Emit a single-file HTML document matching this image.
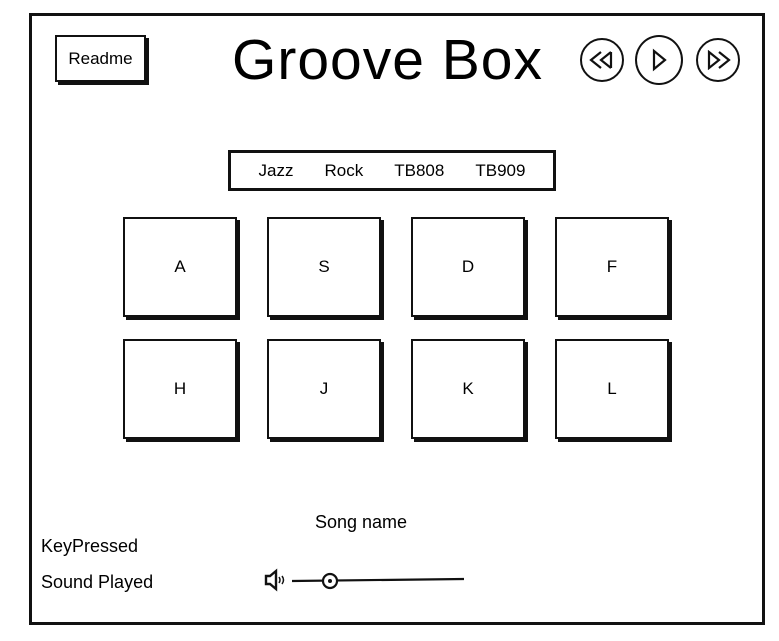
<!DOCTYPE html>
<html><head><meta charset="utf-8"><style>
body{margin:0;width:779px;height:641px;background:#fff;position:relative;overflow:hidden;font-family:"Liberation Sans",sans-serif;color:#000}
.abs{position:absolute}
.frame{left:29px;top:13px;width:730px;height:606px;border:3px solid #111}
.btn{border:2px solid #111;box-shadow:3px 3px 0 #111;background:#fff;display:flex;align-items:center;justify-content:center;box-sizing:border-box}
.pad{width:114px;height:100px;font-size:17px}
.circle{border:2px solid #111;border-radius:50%;box-sizing:border-box;display:flex;align-items:center;justify-content:center}
</style></head><body>
<div class="abs frame"></div>
<div class="abs btn" style="left:55px;top:35px;width:91px;height:47px;font-size:17px">Readme</div>
<div class="abs" style="left:200px;top:25px;width:375px;text-align:center;font-size:57px;line-height:70px;letter-spacing:1px">Groove Box</div>
<div class="abs circle" style="left:580px;top:38px;width:44px;height:44px">
<svg width="28" height="20" viewBox="0 0 28 20"><path d="M13 2 L3 10 L13 18 M23 2 L13 10 L23 18 M23 2 L23 18" fill="none" stroke="#111" stroke-width="2.2"/></svg></div>
<div class="abs circle" style="left:635px;top:35px;width:48px;height:50px">
<svg width="20" height="24" viewBox="0 0 20 24"><path d="M5 3 L16 12 L5 21 Z" fill="none" stroke="#111" stroke-width="2.2"/></svg></div>
<div class="abs circle" style="left:696px;top:38px;width:44px;height:44px">
<svg width="28" height="20" viewBox="0 0 28 20"><path d="M5 2 L15 10 L5 18 Z M15 2 L25 10 L15 18" fill="none" stroke="#111" stroke-width="2.2"/></svg></div>
<div class="abs btn" style="left:228px;top:150px;width:328px;height:41px;box-shadow:none;border-width:3px;font-size:17px;justify-content:space-around;padding:0 12px">
<span>Jazz</span><span>Rock</span><span>TB808</span><span>TB909</span></div>
<div class="abs btn pad" style="left:123px;top:217px">A</div>
<div class="abs btn pad" style="left:267px;top:217px">S</div>
<div class="abs btn pad" style="left:411px;top:217px">D</div>
<div class="abs btn pad" style="left:555px;top:217px">F</div>
<div class="abs btn pad" style="left:123px;top:339px">H</div>
<div class="abs btn pad" style="left:267px;top:339px">J</div>
<div class="abs btn pad" style="left:411px;top:339px">K</div>
<div class="abs btn pad" style="left:555px;top:339px">L</div>
<div class="abs" style="left:315px;top:512px;font-size:18px">Song name</div>
<div class="abs" style="left:41px;top:536px;font-size:18px">KeyPressed</div>
<div class="abs" style="left:41px;top:572px;font-size:18px">Sound Played</div>
<svg class="abs" style="left:260px;top:568px" width="210" height="26" viewBox="0 0 210 26">
<path d="M6 8 H10 L16 3 V21 L10 16 H6 Z" fill="none" stroke="#111" stroke-width="2.4"/>
<path d="M19 9 Q21 12 19 15 M22 8 Q25 12 22 16" fill="none" stroke="#111" stroke-width="1.5"/>
<line x1="32" y1="13" x2="204" y2="11" stroke="#111" stroke-width="2.2"/>
<circle cx="70" cy="13" r="7" fill="#fff" stroke="#111" stroke-width="2.2"/><circle cx="70" cy="13" r="2" fill="#111"/>
</svg>
</body></html>
